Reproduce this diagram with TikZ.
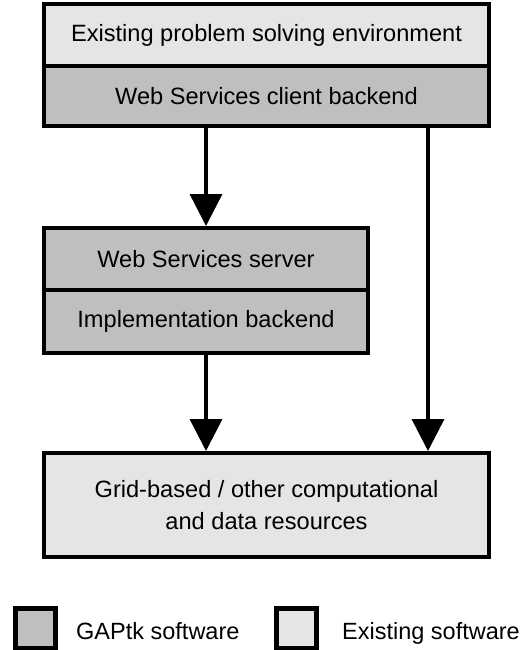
\documentclass[tikz,border=0pt]{standalone}
\usepackage{fontspec}
\setmainfont{Liberation Sans}
\usetikzlibrary{arrows.meta}
\definecolor{lightbox}{HTML}{E5E5E5}
\definecolor{darkbox}{HTML}{BFBFBF}
\tikzset{
  boxbase/.style={draw=black, line width=4pt, inner sep=0pt, align=center, font=\fontsize{23.6}{29}\selectfont},
  existbox/.style={boxbase, fill=lightbox},
  gapbox/.style={boxbase, fill=darkbox},
  flow/.style={line width=3.5pt, -{Triangle[length=32pt,width=32pt]}},
  legsq/.style={draw=black, line width=5pt, minimum width=40pt, minimum height=40pt, inner sep=0pt},
  legtext/.style={anchor=base west, inner sep=0pt, font=\fontsize{23.5}{29}\selectfont}
}
\begin{document}
\begin{tikzpicture}[x=1pt, y=-1pt]
\useasboundingbox (0,0) rectangle (531,650);
% top stack
\node[existbox, minimum width=445pt, minimum height=62pt] (pse) at (266.5,35) {Existing problem solving environment};
\node[gapbox, minimum width=445pt, minimum height=60pt] (client) at (266.5,96) {Web Services client backend};
% middle stack
\node[gapbox, minimum width=324pt, minimum height=62pt] (server) at (206,259) {Web Services server};
\node[gapbox, minimum width=324pt, minimum height=63pt] (impl) at (206,321.5) {Implementation backend};
% resources
\node[existbox, minimum width=445pt, minimum height=104pt] (res) at (266.5,505) {Grid-based / other computational\\[3pt]and data resources};
% connectors
\coordinate (rx) at (428,0);
\draw[flow] (client.south -| server.north) -- (server.north);
\draw[flow] (impl.south) -- (res.north -| impl.south);
\draw[flow] (client.south -| rx) -- (res.north -| rx);
% legend
\node[legsq, fill=darkbox] (leg1) at (35,628) {};
\node[legtext] (leg1t) at (76,639) {GAPtk software};
\node[legsq, fill=lightbox] (leg2) at (296,628) {};
\node[legtext] (leg2t) at (342,639) {Existing software};
\end{tikzpicture}
\end{document}
